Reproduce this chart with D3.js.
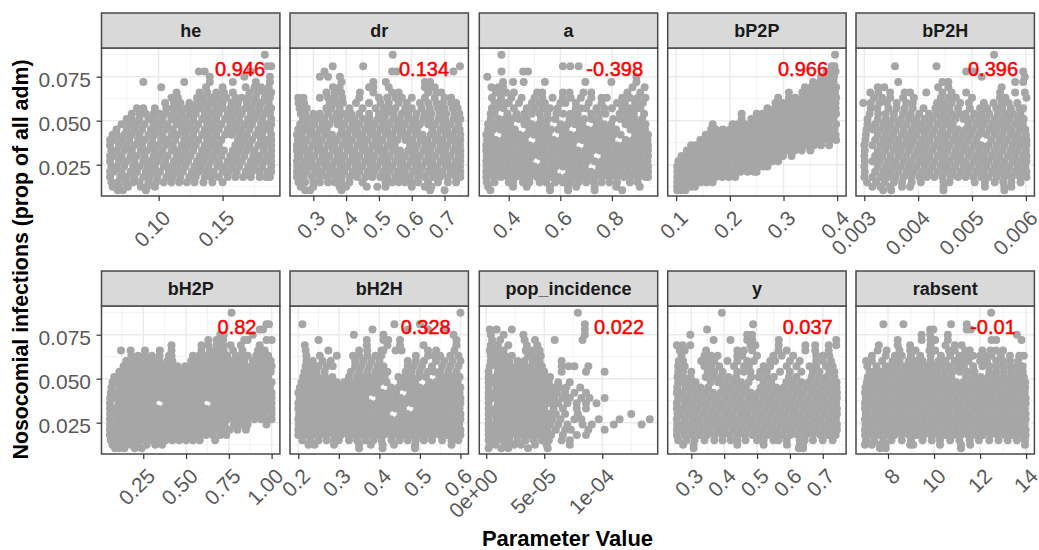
<!DOCTYPE html>
<html>
<head>
<meta charset="utf-8">
<script src="https://cdn.jsdelivr.net/npm/d3@7"></script>
<style>
body { margin: 0; background: #fff; }
text { font-family: "Liberation Sans", Arial, sans-serif; }
</style>
</head>
<body>
<div id="chart"></div>
<script>
// outcome levels shared by every facet: each row of a facet below sits on one of these
const nosocomial = [.0105,.0125,.015,.018,.021,.024,.027,.03,.033,.036,.039,.042,.045,.048,.051,.054,.057,.06,.063,.066,.069,.072,.075,.078,.081,.0875];

const he = [
[.068,.072,.09],
[.064,.069,.076,.086,.091,.097],
[.063,.068,.074,.08,.085,.092,.098,.104,.11,.116,.122,.128,.135,.142,.15],
[.062,.07,.075,.081,.088,.093,.099,.106,.111,.117,.124,.129,.136,.141,.147,.154,.16,.166,.172,.179,.184,.187],
[.062,.065,.071,.078,.083,.09,.095,.101,.108,.113,.119,.126,.131,.137,.143,.15,.155,.161,.168,.173,.179,.185,.188],
[.063,.067,.073,.08,.085,.091,.097,.104,.109,.115,.121,.128,.133,.139,.146,.151,.157,.163,.17,.175,.181,.188],
[.062,.069,.075,.081,.088,.093,.099,.105,.112,.117,.123,.13,.135,.141,.147,.154,.159,.165,.172,.177,.183,.188],
[.062,.065,.071,.078,.083,.089,.096,.101,.107,.114,.119,.125,.132,.137,.143,.149,.156,.161,.167,.174,.179,.185,.188],
[.063,.067,.073,.079,.086,.091,.097,.103,.11,.115,.121,.127,.134,.139,.145,.151,.158,.163,.169,.175,.182,.188],
[.062,.069,.075,.081,.087,.094,.099,.105,.111,.118,.123,.129,.136,.141,.147,.16,.165,.171,.178,.183,.188],
[.062,.065,.071,.077,.084,.089,.095,.102,.107,.113,.12,.125,.131,.138,.143,.149,.162,.167,.173,.18,.185,.188],
[.064,.067,.073,.079,.085,.092,.097,.103,.11,.115,.121,.127,.134,.139,.145,.152,.157,.163,.169,.176,.181,.188],
[.067,.075,.081,.087,.094,.099,.105,.111,.118,.123,.129,.136,.141,.147,.154,.159,.165,.171,.178,.183,.187],
[.071,.077,.083,.089,.096,.101,.107,.114,.119,.125,.131,.138,.143,.149,.156,.161,.167,.173,.18,.185,.188],
[.075,.079,.085,.092,.097,.103,.11,.115,.121,.127,.134,.139,.145,.152,.157,.163,.17,.175,.181,.188],
[.079,.085,.09,.096,.101,.106,.112,.118,.124,.129,.136,.141,.147,.154,.159,.165,.172,.177,.183,.187],
[.083,.088,.097,.106,.111,.116,.122,.127,.133,.139,.145,.15,.156,.162,.168,.173,.179,.185,.188],
[.105,.112,.117,.124,.13,.134,.139,.144,.15,.157,.162,.169,.175,.18,.186],
[.11,.115,.13,.135,.141,.147,.153,.16,.165,.17,.176,.183,.187],
[.114,.132,.138,.145,.151,.158,.171,.177,.183,.188],
[.102,.137,.15,.168,.175,.18,.186],
[.088,.12,.14,.158,.176,.187],
[.14,.167,.187],
[.1315,.136,.172],
[.185,.188],
[.183]
];

const dr = [
[.275,.29,.386,.656,.7],
[.262,.3,.38,.4,.463,.495,.52,.6,.64,.66],
[.255,.275,.3,.32,.345,.365,.385,.41,.45,.52,.54,.56,.58,.6,.62,.65,.68,.71,.735],
[.25,.271,.296,.32,.342,.366,.387,.412,.434,.459,.48,.504,.525,.55,.572,.594,.619,.64,.665,.686,.71,.734,.748],
[.25,.259,.28,.305,.326,.351,.373,.395,.42,.441,.466,.487,.512,.533,.558,.579,.604,.625,.65,.672,.694,.719,.74,.748],
[.251,.266,.29,.311,.336,.357,.382,.403,.428,.449,.474,.495,.52,.541,.566,.587,.612,.633,.658,.679,.704,.725,.747],
[.25,.274,.295,.32,.341,.366,.387,.412,.433,.458,.479,.504,.525,.55,.571,.596,.617,.642,.663,.688,.709,.734,.748],
[.252,.258,.282,.303,.328,.349,.374,.395,.42,.441,.466,.487,.512,.533,.558,.579,.604,.625,.65,.671,.696,.717,.742,.748],
[.25,.267,.288,.313,.334,.359,.38,.405,.426,.451,.472,.497,.518,.543,.564,.589,.61,.635,.656,.681,.702,.727,.748],
[.25,.272,.297,.318,.343,.364,.389,.41,.435,.456,.481,.502,.527,.548,.595,.616,.641,.662,.687,.708,.733,.747],
[.253,.259,.28,.305,.326,.351,.372,.397,.418,.443,.464,.489,.51,.535,.556,.581,.602,.627,.648,.673,.694,.719,.74,.748],
[.25,.265,.29,.311,.336,.357,.382,.403,.428,.449,.474,.495,.52,.541,.566,.587,.612,.633,.658,.679,.704,.725,.748],
[.254,.274,.295,.32,.341,.387,.412,.433,.458,.479,.504,.525,.55,.571,.596,.617,.663,.688,.709,.734,.746],
[.26,.28,.303,.328,.349,.374,.395,.42,.441,.466,.487,.512,.533,.558,.579,.604,.625,.65,.671,.696,.717,.742],
[.268,.29,.311,.334,.359,.38,.405,.426,.451,.472,.497,.518,.543,.564,.589,.61,.635,.656,.681,.702,.727,.748],
[.262,.275,.3,.32,.345,.37,.392,.415,.44,.47,.5,.522,.545,.57,.59,.615,.64,.66,.685,.705,.73,.745],
[.258,.28,.34,.355,.38,.41,.45,.49,.515,.53,.55,.58,.6,.63,.655,.68,.7,.725,.74],
[.255,.272,.35,.37,.39,.43,.47,.505,.53,.56,.585,.625,.65,.675,.695,.72,.735],
[.254,.27,.32,.345,.365,.388,.44,.5,.525,.55,.57,.6,.64,.67,.7,.72],
[.34,.365,.385,.442,.483,.54,.56,.65,.675,.69],
[.36,.38,.47,.483,.53,.64,.656,.67],
[.386,.483,.521,.64,.656],
[.32,.345,.381],
[.334,.54,.554,.727],
[.359,.452,.747],
[.542]
];

const a = [
[.329,.56,.63,.733,.84],
[.32,.417,.47,.56,.63,.662,.733,.817,.908],
[.315,.345,.4,.417,.455,.48,.52,.545,.58,.61,.64,.67,.7,.73,.76,.79,.82,.87,.9],
[.313,.342,.37,.397,.426,.453,.482,.51,.538,.566,.594,.622,.65,.678,.706,.734,.762,.79,.818,.846,.874,.902,.93,.94],
[.313,.322,.35,.378,.406,.434,.463,.49,.518,.547,.574,.634,.662,.69,.718,.746,.774,.802,.83,.858,.886,.914,.94],
[.314,.331,.359,.387,.415,.443,.471,.499,.527,.555,.583,.611,.639,.667,.695,.751,.779,.807,.835,.863,.891,.919,.94],
[.313,.34,.369,.396,.425,.452,.481,.536,.565,.592,.621,.648,.677,.704,.733,.76,.789,.816,.845,.872,.901,.928,.938],
[.315,.323,.351,.379,.407,.435,.463,.491,.519,.547,.575,.603,.631,.659,.687,.715,.771,.799,.827,.855,.883,.911,.94],
[.313,.332,.36,.388,.416,.444,.472,.5,.528,.556,.584,.612,.64,.668,.696,.724,.752,.78,.808,.836,.864,.892,.92,.94],
[.313,.341,.368,.397,.424,.453,.48,.509,.536,.565,.592,.621,.648,.705,.732,.761,.788,.817,.844,.873,.9,.929,.94],
[.316,.322,.35,.378,.406,.434,.462,.518,.546,.574,.602,.63,.658,.686,.714,.742,.77,.798,.854,.882,.91,.938],
[.313,.33,.386,.414,.442,.47,.498,.526,.554,.61,.638,.666,.694,.722,.75,.778,.806,.834,.89,.918,.94],
[.32,.34,.368,.396,.424,.48,.508,.536,.564,.592,.62,.676,.704,.732,.76,.788,.816,.872,.9,.928],
[.32,.35,.377,.405,.461,.489,.517,.545,.601,.629,.657,.685,.741,.769,.797,.853,.881,.909,.93],
[.33,.36,.386,.414,.44,.47,.525,.553,.581,.637,.665,.693,.721,.749,.805,.833,.861,.889,.917],
[.33,.345,.395,.43,.46,.49,.52,.55,.585,.612,.64,.667,.72,.748,.775,.83,.857,.885,.925],
[.335,.352,.38,.42,.47,.5,.53,.56,.59,.66,.68,.7,.74,.77,.8,.84,.87,.895,.91],
[.345,.36,.39,.4,.44,.49,.52,.54,.6,.62,.66,.71,.76,.82,.85,.89,.92],
[.335,.37,.41,.45,.5,.53,.57,.61,.64,.68,.72,.76,.78,.84,.87,.9,.93],
[.35,.375,.39,.42,.51,.53,.61,.636,.69,.72,.86,.91],
[.333,.36,.378,.88,.927],
[.378,.417,.458,.54,.697,.798,.895],
[.317,.895],
[.372,.456,.475],
[.61,.639,.671],
[.372]
];

const bP2P = [
[.102,.109,.117],
[.102,.11,.118,.127,.135],
[.102,.113,.124,.135,.146,.157,.168],
[.102,.114,.126,.138,.15,.162,.174,.186,.198,.21],
[.102,.108,.12,.133,.145,.157,.169,.181,.194,.206,.22,.233,.245,.25],
[.102,.111,.123,.136,.149,.161,.173,.186,.198,.212,.225,.238,.251,.262,.27],
[.104,.116,.129,.141,.153,.166,.178,.191,.203,.216,.229,.242,.255,.268,.279,.29],
[.11,.119,.131,.144,.157,.17,.183,.196,.209,.222,.234,.247,.26,.273,.286,.299,.315],
[.12,.126,.139,.152,.165,.178,.191,.204,.217,.23,.243,.256,.269,.282,.295,.308,.321,.334,.35],
[.128,.136,.149,.162,.175,.188,.201,.214,.227,.24,.253,.266,.279,.292,.305,.318,.331,.344,.357,.37,.385],
[.145,.152,.165,.178,.191,.204,.217,.23,.243,.256,.269,.282,.295,.308,.321,.334,.347,.36,.373,.386,.398],
[.155,.163,.176,.189,.202,.215,.228,.241,.254,.267,.28,.293,.306,.319,.332,.345,.358,.371,.384,.397],
[.165,.174,.187,.2,.213,.226,.239,.252,.265,.278,.291,.304,.317,.33,.343,.356,.369,.382,.395],
[.168,.205,.215,.228,.241,.254,.267,.28,.293,.306,.319,.332,.345,.358,.371,.384,.398],
[.222,.24,.25,.263,.276,.289,.302,.315,.328,.341,.354,.367,.38,.393],
[.222,.25,.261,.274,.287,.3,.313,.326,.339,.352,.365,.378,.391,.398],
[.27,.284,.295,.308,.321,.334,.347,.36,.373,.386,.397],
[.285,.298,.308,.32,.333,.346,.359,.372,.385,.397],
[.29,.31,.322,.336,.349,.362,.375,.388,.398],
[.31,.335,.345,.358,.37,.383,.396],
[.34,.352,.362,.375,.388,.398],
[.355,.368,.38,.393],
[.37,.382,.394],
[.38,.39,.397],
[.39,.395],
[.396]
];

const bP2H = [
[.00335,.0035,.00447,.0056],
[.00315,.0033,.00348,.0037,.00385,.00447,.00524,.0056,.00573],
[.00305,.00322,.00338,.00355,.0037,.00388,.00405,.00447,.00458,.00505,.00524,.00542,.00558,.00573,.0059],
[.003,.00315,.0033,.00344,.00358,.00373,.00387,.00402,.00416,.0043,.00445,.0046,.00474,.00488,.00502,.00517,.00531,.00546,.0056,.00574,.00589,.00601],
[.00301,.0032,.00335,.00349,.00363,.00378,.00392,.00407,.00421,.00436,.0045,.00464,.00479,.00493,.00508,.00522,.00537,.00551,.00565,.0058,.00594,.00601],
[.003,.00325,.0034,.00354,.00368,.00383,.00397,.00412,.00426,.00441,.00455,.00469,.00484,.00498,.00513,.00527,.00542,.00556,.0057,.00585,.00599],
[.00301,.00315,.00329,.00344,.00358,.00373,.00387,.00402,.00416,.0043,.00445,.00459,.00474,.00488,.00503,.00517,.00531,.00546,.0056,.00575,.00589,.00601],
[.003,.0032,.00334,.00349,.00364,.00378,.00393,.00407,.00421,.00436,.0045,.00465,.00479,.00494,.00508,.00522,.00537,.00551,.00566,.0058,.00595,.00601],
[.00301,.00325,.00339,.00354,.00368,.00383,.00398,.00412,.00426,.00441,.00455,.0047,.00484,.00498,.00513,.00527,.00542,.00556,.00571,.00585,.006],
[.003,.00315,.0033,.00344,.00359,.00373,.00387,.00402,.00416,.00431,.00445,.00459,.00474,.00488,.00503,.00517,.00531,.00546,.0056,.00575,.00589,.00601],
[.00302,.0032,.00335,.00349,.00363,.00378,.00392,.00407,.00421,.00436,.0045,.00465,.00479,.00493,.00508,.00536,.00551,.00565,.0058,.00594,.00601],
[.00303,.00325,.0034,.00354,.00369,.00383,.00397,.00412,.00426,.00441,.00455,.0047,.00484,.00498,.00513,.00527,.00542,.00556,.00571,.00585,.006],
[.00304,.00316,.0033,.00344,.00358,.00373,.00388,.00402,.00416,.0043,.00445,.0046,.00474,.00488,.00502,.00517,.00532,.00546,.0056,.00574,.00589,.00599],
[.00306,.0032,.00335,.00349,.00364,.00378,.00393,.00407,.00421,.00436,.0045,.00464,.00493,.00508,.00522,.00537,.00551,.00565,.0058,.00594],
[.00306,.00325,.0034,.00354,.00368,.00383,.00397,.00412,.00426,.00441,.00455,.00469,.00484,.00498,.00513,.00527,.00542,.00556,.0057,.00585,.00596],
[.0031,.00326,.0034,.00355,.00372,.00386,.00402,.0042,.00434,.00448,.00462,.00476,.00488,.00504,.00518,.00532,.00548,.00562,.00576,.0059],
[.00312,.00324,.00345,.0036,.00375,.0039,.0041,.00432,.00445,.00458,.00474,.00496,.00515,.00528,.00545,.00556,.00572,.00588,.00595],
[.00298,.00312,.00328,.00342,.0036,.00378,.0039,.00435,.00448,.00462,.00478,.00494,.00522,.0054,.00555,.00568,.00584],
[.00318,.00333,.00348,.00372,.00392,.00442,.00456,.0047,.005,.00552,.00562,.00601],
[.00311,.00326,.00348,.00375,.00385,.00415,.00445,.00462,.00489,.00552,.0058,.00598],
[.00325,.00337,.00437,.00456,.00555],
[.00363,.00445,.00456,.0058,.00595],
[.00518,.00598],
[.00489,.00502,.00595],
[.00357,.00434],
[.00541]
];

const bH2P = [
[.085,.11,.14,.2,.24],
[.07,.095,.12,.15,.18,.22,.27,.32,.36],
[.06,.09,.125,.16,.195,.23,.265,.3,.34,.38,.42,.46,.5,.54,.58,.67],
[.055,.095,.135,.175,.215,.255,.295,.335,.375,.415,.455,.495,.535,.575,.615,.655,.7,.735],
[.055,.07,.11,.15,.19,.23,.27,.31,.35,.39,.43,.47,.51,.55,.59,.63,.67,.71,.755,.8,.85],
[.056,.085,.125,.165,.205,.245,.285,.325,.365,.405,.445,.485,.525,.565,.605,.645,.685,.725,.78,.82,.86,.97],
[.055,.1,.14,.18,.22,.26,.3,.34,.38,.42,.46,.5,.54,.58,.62,.66,.7,.74,.78,.82,.86,.9,.94,.98,1],
[.056,.075,.115,.155,.195,.235,.275,.315,.355,.395,.435,.475,.515,.555,.595,.635,.675,.715,.755,.795,.835,.875,.915,.955,1],
[.055,.09,.13,.17,.21,.25,.29,.33,.37,.41,.45,.49,.53,.57,.61,.65,.69,.73,.77,.81,.85,.89,.93,.97,1],
[.055,.105,.145,.185,.225,.265,.305,.385,.425,.465,.505,.545,.585,.665,.705,.745,.785,.825,.865,.905,.945,.985,1],
[.057,.08,.12,.16,.2,.24,.28,.32,.36,.4,.44,.48,.52,.56,.6,.64,.68,.72,.76,.8,.84,.88,.92,.96,1],
[.06,.095,.135,.175,.215,.255,.295,.335,.375,.415,.455,.495,.535,.575,.615,.655,.695,.735,.775,.815,.855,.895,.935,.975,1],
[.064,.11,.15,.19,.23,.27,.31,.35,.39,.43,.47,.51,.55,.59,.63,.67,.71,.75,.79,.83,.87,.91,.95,.99],
[.07,.085,.125,.165,.205,.245,.285,.325,.365,.405,.445,.485,.525,.565,.605,.645,.685,.725,.765,.805,.845,.885,.925,.965,1],
[.08,.1,.14,.18,.22,.26,.3,.34,.38,.42,.46,.5,.54,.58,.62,.66,.7,.74,.78,.82,.86,.9,.94,.98],
[.11,.13,.155,.195,.235,.275,.315,.355,.395,.435,.475,.515,.555,.595,.635,.675,.715,.755,.795,.835,.875,.915,.955,.995],
[.135,.176,.21,.25,.29,.33,.37,.41,.45,.495,.53,.57,.61,.65,.69,.73,.77,.81,.85,.89,.93,.97,1],
[.15,.19,.225,.27,.31,.345,.39,.42,.53,.56,.6,.64,.68,.72,.76,.8,.84,.89,.93,.97,.995],
[.18,.22,.26,.3,.345,.4,.415,.54,.575,.62,.66,.7,.74,.79,.82,.86,.91,.94,.98],
[.12,.176,.26,.347,.415,.59,.64,.68,.72,.775,.83,.92,.96],
[.415,.59,.63,.678,.717,.76,.82,.93],
[.63,.678,.717,.84,.86,.97,1],
[.7,.72,.89],
[.93,.95],
[.97,.985],
[.766]
];

const bH2H = [
[.35,.408,.488],
[.225,.24,.288,.35,.379,.408,.436,.488,.578],
[.21,.23,.25,.27,.288,.3,.325,.345,.365,.385,.405,.43,.45,.47,.49,.51,.53,.555,.578,.595],
[.2,.218,.235,.253,.27,.288,.305,.323,.34,.358,.375,.393,.41,.428,.445,.463,.48,.498,.515,.533,.55,.568,.585,.6],
[.2,.206,.224,.241,.259,.276,.294,.311,.329,.346,.364,.381,.399,.416,.434,.451,.469,.486,.504,.521,.539,.556,.574,.591,.6],
[.201,.212,.23,.247,.265,.282,.3,.317,.335,.352,.37,.387,.405,.422,.44,.457,.475,.492,.51,.527,.545,.562,.58,.597],
[.2,.218,.236,.253,.271,.288,.306,.323,.341,.358,.376,.393,.411,.428,.446,.463,.481,.498,.516,.533,.551,.568,.586,.6],
[.202,.207,.224,.242,.259,.277,.294,.312,.329,.347,.364,.382,.399,.417,.452,.469,.487,.504,.522,.539,.557,.574,.592,.6],
[.2,.213,.23,.248,.265,.283,.3,.318,.335,.353,.37,.388,.405,.423,.44,.458,.493,.51,.528,.545,.563,.58,.598],
[.2,.219,.236,.254,.271,.289,.306,.324,.341,.359,.376,.394,.411,.429,.446,.464,.481,.499,.516,.534,.551,.569,.586,.6],
[.203,.207,.225,.242,.26,.277,.295,.312,.33,.347,.365,.4,.417,.435,.452,.47,.487,.505,.522,.54,.557,.575,.592,.6],
[.2,.213,.231,.248,.266,.283,.301,.318,.336,.353,.371,.388,.406,.423,.441,.476,.493,.511,.528,.546,.563,.581,.598],
[.204,.219,.237,.254,.272,.289,.307,.324,.342,.359,.377,.394,.429,.447,.464,.482,.499,.517,.534,.552,.569,.587,.6],
[.208,.225,.243,.26,.278,.295,.313,.33,.348,.365,.383,.4,.418,.453,.47,.488,.523,.54,.558,.575,.593],
[.212,.23,.248,.266,.284,.325,.345,.36,.377,.395,.413,.447,.464,.481,.498,.515,.548,.565,.582,.598],
[.215,.23,.245,.265,.33,.35,.37,.39,.405,.42,.465,.48,.5,.52,.535,.55,.57,.59],
[.218,.232,.25,.27,.285,.34,.355,.375,.395,.41,.47,.485,.505,.53,.555,.575,.595],
[.22,.236,.26,.28,.34,.36,.38,.4,.47,.49,.51,.54,.56,.58,.6],
[.22,.253,.295,.335,.35,.37,.39,.405,.49,.52,.535,.55,.575,.595],
[.218,.274,.35,.37,.405,.41,.44,.455,.52,.54,.585],
[.216,.369,.42,.451,.509,.59],
[.25,.369,.41,.422,.451,.59],
[.337,.41,.583],
[.383,.47,.52,.56],
[.21,.437,.5],
[.6]
];

// pop_incidence is written in units of 1e-6
const popIncidence = [
[2,13,19,36,53],
[3,8,17,24,30,42,52,72],
[2,8,14,20,27,34,41,48,54,65,72],
[2,8,14,20,26,32,38,44,50,56,66,78,86],
[2,5,11,17,23,29,35,41,47,53,60,68,73,88,102],
[2,7,13,19,25,31,37,43,49,55,62,70,83,91,110,134],
[2,9,15,21,27,33,39,45,51,57,64,76,82,97,115,141],
[2,6,12,18,24,30,36,42,48,54,60,68,79,125],
[2,8,14,20,26,32,38,44,50,58,66,78,86],
[2,10,16,22,28,34,40,46,52,56,62,70,78,86,95],
[2,5,11,17,23,29,35,41,47,53,59,66,72,82,89,102],
[2,7,13,19,25,31,37,43,49,55,61,68,76,86],
[2,9,15,21,27,33,39,45,51,57,63,69,81],
[2,6,12,18,24,30,36,42,48,54,62,72],
[2,8,14,20,26,32,38,44,50,55],
[2,10,16,22,28,34,40,46,50,65,86,102],
[3,9,15,21,27,33,39,45,48,65,71,76,88],
[4,9,14,20,27,33,40,46,65],
[4,10,16,22,36,42,47],
[3,9,15,34,40,46],
[4,10,19,35,44],
[5,12,33,42,59,83],
[4,15,32,85],
[3,9,22,85],
[85],
[79]
];

const y = [
[.307,.627,.64],
[.275,.307,.44,.52,.591,.63,.64],
[.26,.285,.31,.34,.37,.395,.42,.44,.465,.5,.52,.55,.565,.59,.63,.645,.67,.7,.73],
[.256,.279,.302,.325,.348,.371,.394,.417,.44,.463,.486,.509,.532,.555,.578,.601,.624,.647,.67,.693,.716,.739],
[.256,.264,.287,.31,.333,.356,.379,.402,.425,.448,.471,.494,.517,.54,.563,.586,.609,.632,.655,.678,.701,.724,.743],
[.257,.272,.295,.318,.341,.364,.387,.41,.433,.456,.479,.502,.525,.548,.571,.594,.617,.64,.663,.686,.709,.732,.743],
[.256,.28,.303,.326,.349,.372,.395,.418,.441,.464,.487,.51,.533,.556,.579,.602,.625,.648,.671,.694,.717,.74],
[.258,.265,.288,.311,.334,.357,.38,.403,.426,.449,.472,.495,.518,.541,.564,.587,.61,.633,.656,.679,.702,.725,.743],
[.256,.273,.296,.319,.342,.365,.388,.411,.434,.457,.48,.503,.526,.549,.572,.595,.618,.641,.664,.687,.71,.733,.743],
[.256,.281,.304,.327,.35,.373,.396,.419,.442,.465,.488,.511,.534,.557,.58,.603,.626,.649,.672,.695,.718,.741],
[.26,.266,.289,.312,.335,.358,.381,.404,.427,.45,.473,.496,.519,.542,.565,.588,.611,.634,.657,.68,.703,.726,.743],
[.256,.274,.297,.32,.343,.366,.389,.412,.435,.458,.481,.504,.527,.55,.573,.596,.619,.642,.665,.688,.711,.734,.743],
[.257,.282,.305,.328,.351,.397,.42,.443,.466,.512,.535,.558,.581,.604,.627,.65,.673,.696,.719,.742],
[.26,.267,.29,.313,.359,.382,.405,.428,.451,.474,.52,.543,.589,.612,.635,.658,.681,.704,.727,.742],
[.258,.275,.298,.344,.367,.39,.413,.436,.482,.505,.528,.551,.597,.62,.666,.689,.712,.735],
[.26,.275,.3,.35,.37,.395,.44,.46,.48,.51,.53,.57,.6,.635,.67,.69,.72,.735],
[.26,.28,.34,.36,.385,.43,.46,.475,.52,.54,.59,.62,.66,.68,.71,.73],
[.262,.275,.33,.35,.37,.41,.44,.47,.49,.54,.555,.6,.63,.68,.7,.725],
[.27,.34,.36,.38,.44,.455,.5,.55,.575,.61,.68,.7,.72],
[.265,.28,.345,.44,.46,.485,.565,.59,.647,.677,.718],
[.256,.274,.297,.48,.495,.566,.647,.677,.718,.741],
[.368,.419,.47,.485,.566,.741],
[.297,.47,.485],
[.348],
[.488],
[.393]
];

const rabsent = [
[7.65,7.9,11.17],
[7,7.3,7.65,7.9,8.96,9.1,10.26,11.17,11.57,13.95],
[7.05,7.4,7.8,8.15,8.6,9,9.5,9.9,10.26,10.7,11.1,11.55,11.95,12.4,12.8,13.2,13.6,13.95],
[7,7.32,7.64,7.96,8.28,8.6,8.92,9.24,9.56,9.88,10.2,10.52,10.84,11.16,11.48,11.8,12.12,12.44,12.76,13.08,13.4,13.72,13.98],
[7,7.11,7.43,7.75,8.07,8.39,8.71,9.03,9.35,9.67,9.99,10.31,10.63,10.95,11.27,11.59,11.91,12.23,12.55,12.87,13.19,13.51,13.83,13.98],
[7.02,7.22,7.54,7.86,8.18,8.5,8.82,9.14,9.46,9.78,10.1,10.42,10.74,11.06,11.38,11.7,12.02,12.34,12.66,12.98,13.3,13.62,13.94],
[7,7.33,7.65,7.97,8.29,8.61,8.93,9.25,9.57,9.89,10.21,10.53,10.85,11.17,11.49,11.81,12.13,12.45,12.77,13.09,13.41,13.73,13.98],
[7.03,7.12,7.44,7.76,8.08,8.4,8.72,9.04,9.36,9.68,10,10.32,10.64,10.96,11.28,11.6,11.92,12.24,12.56,12.88,13.2,13.52,13.84,13.98],
[7,7.23,7.55,7.87,8.19,8.51,8.83,9.15,9.47,9.79,10.11,10.43,10.75,11.07,11.39,11.71,12.03,12.35,12.67,12.99,13.31,13.63,13.95],
[7,7.32,7.64,7.96,8.28,8.6,8.92,9.24,9.56,9.88,10.2,10.52,10.84,11.16,11.48,11.8,12.12,12.44,12.76,13.08,13.4,13.72,13.98],
[7.04,7.11,7.43,7.75,8.07,8.39,8.71,9.03,9.35,9.67,9.99,10.31,10.63,10.95,11.27,11.59,11.91,12.23,12.55,12.87,13.19,13.51,13.83,13.98],
[7,7.22,7.54,7.86,8.18,8.5,8.82,9.14,9.46,9.78,10.1,10.42,10.74,11.06,11.38,11.7,12.02,12.34,12.66,12.98,13.3,13.62,13.94],
[7.02,7.33,7.65,7.97,8.29,8.61,8.93,9.25,9.57,9.89,10.21,10.53,10.85,11.17,11.49,11.81,12.13,12.45,12.77,13.09,13.41,13.73,13.96],
[7.08,7.12,7.44,7.76,8.08,8.4,8.72,9.04,9.36,9.68,10,10.32,10.64,10.96,11.28,11.6,11.92,12.24,12.56,12.88,13.2,13.52,13.84,13.96],
[7.12,7.23,7.55,7.87,8.19,8.51,8.83,9.15,9.47,9.79,10.11,10.43,10.75,11.39,11.71,12.03,12.35,12.67,12.99,13.31,13.63,13.9],
[7.2,7.4,7.7,8,8.3,8.62,8.95,9.25,9.55,9.85,10.16,10.48,10.8,11.12,11.44,11.76,12.4,12.72,13.04,13.36,13.68,13.85],
[7.1,7.5,7.9,8.1,8.42,8.74,9.06,9.38,9.7,10.02,10.34,10.66,11,11.3,11.7,12.1,12.4,12.7,13,13.3,13.6,13.85],
[7.05,7.3,7.75,8.2,8.5,8.9,9.2,9.5,9.85,10.2,10.5,10.9,11.2,11.5,12,12.3,12.7,13,13.3,13.65],
[7.3,7.9,8.3,8.6,9,9.4,9.85,10.3,10.7,11.1,11.4,11.7,12,12.2,12.5,12.9,13.3,13.7,13.9],
[7.55,7.94,8.5,8.96,9.2,9.8,10.05,10.65,10.9,11.35,11.55,12.1,12.45,12.7,13],
[7.6,8.42,8.96,9.85,10.5,10.9,11.2],
[8.42,9.46,9.85,10.05,10.6,12.5,12.7,13.8],
[9.46,9.83,10.6,13.6],
[9.83,9.97,11.42,11.6],
[7.8,8.67,10.74,11.42],
[12.48]
];

const facetNames = ["he", "dr", "a", "bP2P", "bP2H", "bH2P", "bH2H", "pop_incidence", "y", "rabsent"];
const facetRows = [he, dr, a, bP2P, bP2H, bH2P, bH2H, popIncidence, y, rabsent];
const xDomains = [[.0553, .1948], [.229, .7726], [.286, .9775], [.0842, .4166], [.002846, .006158], [.0058, 1.0485], [.1795, .6197], [-6, 147.8], [.2282, .771], [6.61, 14.36]];
const xTicks = [[.1, .15], [.3, .4, .5, .6, .7], [.4, .6, .8], [.1, .2, .3, .4], [.003, .004, .005, .006], [.25, .5, .75, 1], [.2, .3, .4, .5, .6], [0, 50, 100], [.3, .4, .5, .6, .7], [8, 10, 12, 14]];
const xTickLabels = [["0.10", "0.15"], ["0.3", "0.4", "0.5", "0.6", "0.7"], ["0.4", "0.6", "0.8"], ["0.1", "0.2", "0.3", "0.4"], ["0.003", "0.004", "0.005", "0.006"], ["0.25", "0.50", "0.75", "1.00"], ["0.2", "0.3", "0.4", "0.5", "0.6"], ["0e+00", "5e-05", "1e-04"], ["0.3", "0.4", "0.5", "0.6", "0.7"], ["8", "10", "12", "14"]];
const corrLabels = ["0.946", "0.134", "-0.398", "0.966", "0.396", "0.82", "0.328", "0.022", "0.037", "-0.01"];
const yTicks = [.025, .05, .075];
const yTickLabels = ["0.025", "0.050", "0.075"];
const yMinor = [.0125, .0375, .0625, .0875];
const yDomain = [.0072, .0913];

// layout in pixels
const width = 1039, height = 550;
const panelLeft = [101.5, 290, 479.3, 667.7, 856];
const panelTop = [48, 306];
const panelW = 178.4, panelH = 148, stripH = 35;
const corrX = [138.5, 134, 135.4, 135.3, 137, 135.5, 135.7, 139.7, 140, 137];

const svg = d3.select("#chart").append("svg")
    .attr("width", width)
    .attr("height", height)
    .style("display", "block");

const yScale = d3.scaleLinear().domain(yDomain).range([panelH, 0]);

facetNames.forEach(function (name, i) {
    const col = i % 5, row = Math.floor(i / 5);
    const g = svg.append("g")
        .attr("transform", "translate(" + panelLeft[col] + "," + panelTop[row] + ")");
    const xScale = d3.scaleLinear().domain(xDomains[i]).range([0, panelW]);

    // minor grid sits halfway between the major breaks
    const ticks = xTicks[i];
    const step = ticks[1] - ticks[0];
    const xMinor = [ticks[0] - step / 2].concat(ticks.map(t => t + step / 2))
        .filter(t => t > xDomains[i][0] && t < xDomains[i][1]);

    g.selectAll(".minorx").data(xMinor).join("line")
        .attr("x1", d => xScale(d)).attr("x2", d => xScale(d))
        .attr("y1", 0).attr("y2", panelH)
        .attr("stroke", "#EFEFEF").attr("stroke-width", 0.8);
    g.selectAll(".minory").data(yMinor).join("line")
        .attr("x1", 0).attr("x2", panelW)
        .attr("y1", d => yScale(d)).attr("y2", d => yScale(d))
        .attr("stroke", "#EFEFEF").attr("stroke-width", 0.8);
    g.selectAll(".majorx").data(ticks).join("line")
        .attr("x1", d => xScale(d)).attr("x2", d => xScale(d))
        .attr("y1", 0).attr("y2", panelH)
        .attr("stroke", "#EBEBEB").attr("stroke-width", 1.4);
    g.selectAll(".majory").data(yTicks).join("line")
        .attr("x1", 0).attr("x2", panelW)
        .attr("y1", d => yScale(d)).attr("y2", d => yScale(d))
        .attr("stroke", "#EBEBEB").attr("stroke-width", 1.4);

    const points = [];
    facetRows[i].forEach(function (vals, r) {
        vals.forEach(v => points.push({ x: v, y: nosocomial[r] }));
    });
    g.selectAll("circle").data(points).join("circle")
        .attr("cx", d => xScale(d.x))
        .attr("cy", d => yScale(d.y))
        .attr("r", 4)
        .attr("fill", "#A6A6A6");

    // correlation printed many times over in the original, hence the heavy look
    g.append("text")
        .attr("x", corrX[i])
        .attr("y", 27.5)
        .attr("text-anchor", "middle")
        .attr("font-size", 20)
        .attr("fill", "#FF0000")
        .attr("stroke", "#FF0000")
        .attr("stroke-width", 0.5)
        .text(corrLabels[i]);

    g.append("rect")
        .attr("width", panelW).attr("height", panelH)
        .attr("fill", "none").attr("stroke", "#4A4A4A").attr("stroke-width", 1.5);

    // strip
    g.append("rect")
        .attr("y", -stripH)
        .attr("width", panelW).attr("height", stripH)
        .attr("fill", "#D9D9D9").attr("stroke", "#4A4A4A").attr("stroke-width", 1.5);
    g.append("text")
        .attr("x", panelW / 2)
        .attr("y", -stripH / 2 + 6)
        .attr("text-anchor", "middle")
        .attr("font-size", 18)
        .attr("font-weight", "bold")
        .attr("fill", "#1A1A1A")
        .text(name);

    // x axis
    const xAxis = g.append("g")
        .attr("transform", "translate(0," + panelH + ")")
        .call(d3.axisBottom(xScale).tickValues(ticks).tickSize(5)
            .tickFormat((d, k) => xTickLabels[i][k]));
    xAxis.select(".domain").remove();
    xAxis.selectAll("line").attr("stroke", "#333").attr("stroke-width", 1.2);
    xAxis.selectAll("text")
        .attr("font-size", 21)
        .attr("font-family", "Liberation Sans")
        .attr("fill", "#5A5A5A")
        .attr("text-anchor", "end")
        .attr("dy", ".35em")
        .attr("y", 0)
        .attr("transform", "translate(7.5,18.3) rotate(-45)");

    // y axis on the left column only
    if (col === 0) {
        const yAxis = g.append("g")
            .call(d3.axisLeft(yScale).tickValues(yTicks).tickSize(5)
                .tickFormat((d, k) => yTickLabels[k]));
        yAxis.select(".domain").remove();
        yAxis.selectAll("line").attr("stroke", "#333").attr("stroke-width", 1.2);
        yAxis.selectAll("text")
            .attr("font-size", 21)
            .attr("font-family", "Liberation Sans")
            .attr("fill", "#5A5A5A")
            .attr("x", -10.5)
            .attr("dy", ".45em");
    }
});

svg.append("text")
    .attr("x", 567.5)
    .attr("y", 546)
    .attr("text-anchor", "middle")
    .attr("font-size", 22)
    .attr("font-weight", "bold")
    .attr("fill", "#000")
    .text("Parameter Value");

svg.append("text")
    .attr("transform", "translate(28,259.5) rotate(-90)")
    .attr("text-anchor", "middle")
    .attr("font-size", 21.3)
    .attr("font-weight", "bold")
    .attr("fill", "#000")
    .text("Nosocomial infections (prop of all adm)");
</script>
</body>
</html>
